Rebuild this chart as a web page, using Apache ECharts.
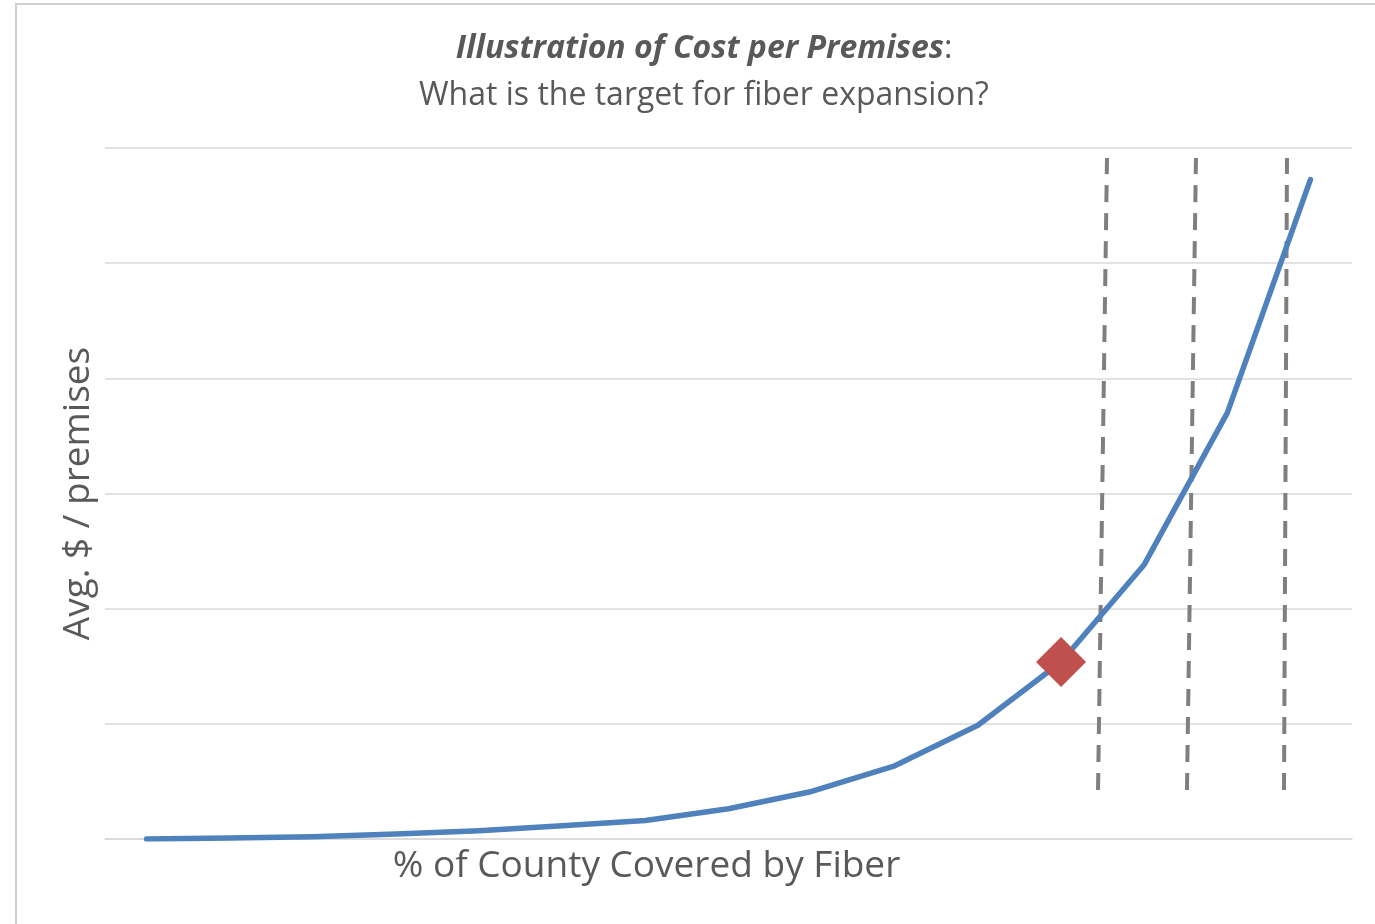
<!DOCTYPE html>
<html>
<head>
<meta charset="utf-8">
<script src="https://cdn.jsdelivr.net/npm/echarts@6/dist/echarts.min.js"></script>
<style>
  html, body { margin: 0; padding: 0; background: #ffffff; }
  #frame { position: absolute; left: 15px; top: 3px; width: 1400px; height: 960px;
           border-left: 2px solid #d0d0d0; border-top: 2px solid #d0d0d0; box-sizing: border-box; }
  #chart { position: absolute; left: 0; top: 0; width: 1375px; height: 924px; }
</style>
</head>
<body>
<div id="frame"></div>
<div id="chart"></div>
<script>
// ---- data ----
const titleBold = 'Illustration of Cost per Premises';
const subtitle = 'What is the target for fiber expansion?';
const xAxisName = '% of County Covered by Fiber';
const yAxisName = 'Avg. $ / premises';

// cost curve (15 coverage steps, arbitrary units)
const coverageIdx = [0, 1, 2, 3, 4, 5, 6, 7, 8, 9, 10, 11, 12, 13, 14];
const costValues = [0, 0.009, 0.02, 0.043, 0.072, 0.115, 0.161, 0.263, 0.413, 0.636, 0.988, 1.537, 2.382, 3.70, 5.725];

// highlighted target point (index into curve)
const targetIdx = 11;

// dashed reference lines: [x bottom, x top]
const refLineX = [[11.445, 11.553], [12.515, 12.623], [13.682, 13.718]];
const refLineY = [0.425, 5.913];

// ---- chart ----
const chart = echarts.init(document.getElementById('chart'));
const font = '"Open Sans", "Noto Sans", sans-serif';

const refSeries = refLineX.map(function (xs) {
  return {
    type: 'line',
    data: [[xs[0], refLineY[0]], [xs[1], refLineY[1]]],
    showSymbol: false,
    symbol: 'none',
    lineStyle: { color: '#7f7f7f', width: 4, type: [17, 11] },
    z: 3,
    silent: true
  };
});

chart.setOption({
  animation: false,
  backgroundColor: 'transparent',
  title: {
    left: 699,
    top: 28,
    textAlign: 'center',
    text: '{b|' + titleBold + '}{n|:}',
    subtext: subtitle,
    itemGap: 15,
    textStyle: {
      rich: {
        b: { fontFamily: font, fontSize: 32, fontWeight: 'bold', fontStyle: 'italic', color: '#595959' },
        n: { fontFamily: font, fontSize: 32, fontWeight: 'normal', fontStyle: 'normal', color: '#595959' }
      }
    },
    subtextStyle: { fontFamily: font, fontSize: 32, color: '#595959' }
  },
  grid: { left: 105, right: 23, top: 148, bottom: 85, containLabel: false },
  xAxis: {
    type: 'value',
    min: -0.5,
    max: 14.5,
    name: xAxisName,
    nameLocation: 'middle',
    nameGap: 9,
    nameTextStyle: { fontFamily: font, fontSize: 37, color: '#595959', padding: [0, 164, 0, 0], verticalAlign: 'top' },
    axisLine: { show: true, lineStyle: { color: '#d9d9d9', width: 1.5 } },
    axisTick: { show: false },
    axisLabel: { show: false },
    splitLine: { show: false }
  },
  yAxis: {
    type: 'value',
    min: 0,
    max: 6,
    interval: 1,
    name: yAxisName,
    nameLocation: 'middle',
    nameGap: 8,
    nameTextStyle: { fontFamily: font, fontSize: 37, color: '#595959' },
    axisLine: { show: false },
    axisTick: { show: false },
    axisLabel: { show: false },
    splitLine: { show: true, lineStyle: { color: '#d9d9d9', width: 1.5 } }
  },
  series: [
    {
      type: 'line',
      data: coverageIdx.map(function (x, i) { return [x, costValues[i]]; }),
      showSymbol: false,
      symbol: 'none',
      lineStyle: { color: '#4F81BD', width: 5.5, cap: 'round', join: 'round' },
      z: 4,
      silent: true
    }
  ].concat(refSeries).concat([
    {
      type: 'scatter',
      data: [[coverageIdx[targetIdx], costValues[targetIdx]]],
      symbol: 'diamond',
      symbolSize: 50,
      itemStyle: { color: '#C0504D', opacity: 1 },
      z: 5,
      silent: true
    }
  ])
});
</script>
</body>
</html>
